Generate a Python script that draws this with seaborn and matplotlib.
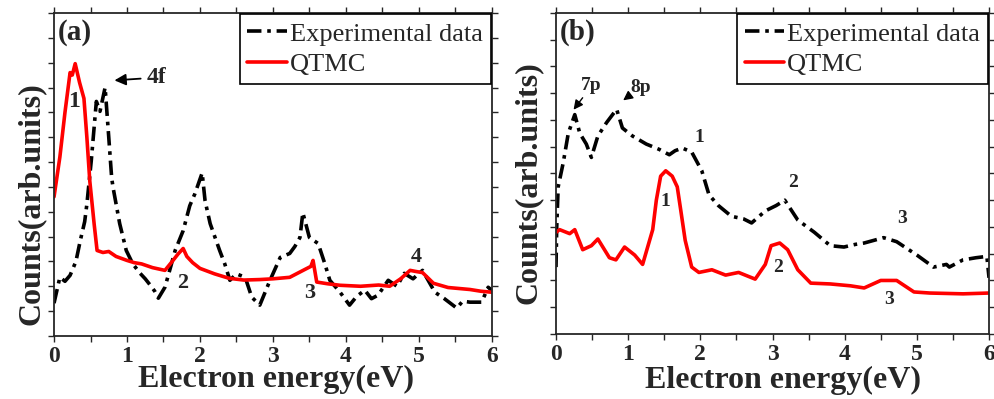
import pandas as pd
import matplotlib.pyplot as plt
import seaborn as sns

# panel (a) - experimental (black dash-dot)
a_exp_x = [0.0, 0.08, 0.15, 0.22, 0.30, 0.36, 0.42, 0.45, 0.51, 0.58, 0.63, 0.70, 0.75, 0.79, 0.81,
           0.90, 0.99, 1.08, 1.18, 1.25, 1.32, 1.38, 1.43, 1.52, 1.60, 1.66, 1.77, 1.86, 1.93, 2.03,
           2.07, 2.14, 2.27, 2.34, 2.41, 2.50, 2.62, 2.71, 2.82, 2.96, 3.10, 3.23, 3.30, 3.37, 3.41,
           3.50, 3.62, 3.71, 3.78, 3.92, 4.05, 4.15, 4.26, 4.35, 4.44, 4.58, 4.70, 4.80, 4.92, 5.05,
           5.22, 5.35, 5.52, 5.60, 5.70, 5.86, 5.95, 6.0]
a_exp_y = [1.32, 2.36, 2.2, 2.44, 3.0, 3.84, 4.6, 5.3, 7.04, 9.44, 9.04, 10.0, 8.0, 6.36, 5.96,
           4.52, 3.44, 2.9, 2.52, 2.3, 2.04, 1.8, 1.52, 1.96, 2.8, 3.44, 4.24, 5.24, 5.72, 6.56,
           5.44, 4.52, 3.44, 2.9, 2.24, 2.5, 2.36, 1.56, 1.24, 2.24, 3.16, 3.32, 3.6, 3.96, 4.96,
           3.96, 3.72, 2.92, 2.24, 1.76, 1.24, 1.6, 1.84, 1.5, 1.64, 2.24, 2.0, 2.52, 2.3, 2.64,
           1.76, 1.5, 1.12, 1.4, 1.36, 1.36, 1.96, 1.84]

# panel (a) - QTMC (red)
a_qt_x = [0.0, 0.08, 0.15, 0.22, 0.25, 0.29, 0.35, 0.41, 0.45, 0.49, 0.55, 0.59, 0.67, 0.75, 0.85,
          1.0, 1.1, 1.2, 1.35, 1.52, 1.62, 1.70, 1.77, 1.82, 1.90, 2.0, 2.2, 2.4, 2.6, 2.82, 3.0,
          3.23, 3.44, 3.52, 3.55, 3.60, 3.75, 3.92, 4.2, 4.45, 4.6, 4.75, 4.88, 4.95, 5.05, 5.2,
          5.4, 5.7, 5.85, 6.0]
a_qt_y = [5.6, 7.2, 9.0, 10.6, 10.5, 10.96, 10.2, 9.56, 8.0, 6.24, 4.5, 3.44, 3.36, 3.4, 3.2,
          3.04, 2.95, 2.9, 2.75, 2.64, 3.0, 3.3, 3.52, 3.2, 2.95, 2.72, 2.5, 2.32, 2.25, 2.27, 2.3,
          2.36, 2.68, 2.8, 3.04, 2.17, 2.1, 2.04, 2.0, 2.05, 2.0, 2.3, 2.64, 2.6, 2.55, 2.12,
          1.95, 1.87, 1.8, 1.76]

# panel (b) - experimental (black dash-dot)
b_exp_x = [0.0, 0.01, 0.03, 0.10, 0.17, 0.26, 0.33, 0.42, 0.49, 0.58, 0.70, 0.84, 0.92, 1.06, 1.25,
           1.43, 1.57, 1.65, 1.75, 1.88, 2.02, 2.12, 2.25, 2.43, 2.60, 2.71, 2.90, 3.05, 3.17, 3.35,
           3.58, 3.80, 3.99, 4.15, 4.27, 4.54, 4.72, 5.0, 5.23, 5.41, 5.45, 5.64, 5.82, 5.97, 6.0]
b_exp_y = [2.5, 4.0, 5.5, 6.4, 7.5, 8.2, 7.5, 7.1, 6.6, 7.4, 7.9, 8.4, 7.7, 7.4, 7.1,
           6.9, 6.7, 6.85, 6.95, 6.8, 6.1, 5.2, 4.8, 4.4, 4.3, 4.15, 4.6, 4.8, 5.0, 4.26,
           3.8, 3.3, 3.25, 3.35, 3.4, 3.6, 3.45, 2.95, 2.5, 2.6, 2.5, 2.77, 2.85, 2.9, 2.1]

# panel (b) - QTMC (red)
b_qt_x = [0.0, 0.05, 0.19, 0.26, 0.37, 0.49, 0.58, 0.74, 0.83, 0.95, 1.09, 1.20, 1.34, 1.39, 1.45,
          1.52, 1.61, 1.68, 1.73, 1.79, 1.88, 1.98, 2.16, 2.35, 2.53, 2.76, 2.90, 2.98, 3.10, 3.21,
          3.35, 3.53, 3.80, 4.08, 4.27, 4.50, 4.72, 4.96, 5.18, 5.64, 6.0]
b_qt_y = [3.8, 3.9, 3.75, 3.9, 3.15, 3.3, 3.55, 2.85, 2.77, 3.25, 2.95, 2.6, 3.9, 5.0, 5.9,
          6.1, 5.9, 5.5, 4.6, 3.5, 2.5, 2.3, 2.4, 2.2, 2.3, 2.05, 2.6, 3.3, 3.4, 3.15,
          2.4, 1.9, 1.87, 1.8, 1.72, 2.0, 2.0, 1.57, 1.53, 1.5, 1.53]

sns.set_style("ticks")
plt.rcParams['font.family'] = ['Liberation Serif', 'DejaVu Serif']
plt.rcParams['font.weight'] = 'bold'
plt.rcParams['xtick.direction'] = 'out'
plt.rcParams['ytick.direction'] = 'out'

fig = plt.figure(figsize=(9.95, 3.99), dpi=100)
ax_a = fig.add_axes([0.0543, 0.158, 0.440, 0.8095])
ax_b = fig.add_axes([0.5588, 0.163, 0.4352, 0.8045])

dash = (4, 1.6, 1, 1.6)


def draw(ax, ex, ey, qx, qy, ymax):
    exp = pd.DataFrame({'x': ex, 'y': ey})
    qt = pd.DataFrame({'x': qx, 'y': qy})
    sns.lineplot(data=exp, x='x', y='y', ax=ax, color='black', lw=2.6,
                 dashes=False, label='Experimental data').lines[-1].set_dashes(dash)
    sns.lineplot(data=qt, x='x', y='y', ax=ax, color='red', lw=2.6, label='QTMC')
    ax.set_xlim(0, 6)
    ax.set_ylim(0, ymax)
    ax.set_xticks(range(7))
    ax.set_xticks([i + 0.5 for i in range(6)], minor=True)
    ax.set_yticks(range(ymax + 1))
    ax.set_yticklabels([])
    ax.tick_params(which='both', top=True, right=True, length=4, width=1,
                   labelsize=17, pad=3)
    for lab in ax.get_xticklabels():
        lab.set_fontweight('bold')
    for s in ax.spines.values():
        s.set_linewidth(1.3)
    ax.set_xlabel('Electron energy(eV)', fontsize=23, fontweight='bold')
    ax.set_ylabel('Counts(arb.units)', fontsize=23, fontweight='bold')
    leg = ax.legend(loc='upper right', bbox_to_anchor=(1.0, 1.0), fontsize=19,
                    frameon=True, fancybox=False, framealpha=1, edgecolor='black',
                    handlelength=1.5, handletextpad=0.1, borderpad=0.3,
                    labelspacing=0.25, borderaxespad=0.05)
    leg.get_frame().set_linewidth(1.2)
    for t in leg.get_texts():
        t.set_fontweight('normal')


draw(ax_a, a_exp_x, a_exp_y, a_qt_x, a_qt_y, 13)
draw(ax_b, b_exp_x, b_exp_y, b_qt_x, b_qt_y, 12)

ax_a.xaxis.set_label_coords(0.507, -0.09)
ax_a.yaxis.set_label_coords(-0.02, 0.41)
ax_b.xaxis.set_label_coords(0.524, -0.10)
ax_b.yaxis.set_label_coords(-0.03, 0.47)

# panel (a) annotations
ax_a.text(0.008, 0.94, '(a)', transform=ax_a.transAxes, fontsize=21, fontweight='bold', va='center')
ax_a.text(0.27, 9.44, '1', fontsize=17, ha='center', va='center')
ax_a.annotate('4f', xy=(0.79, 10.28), xytext=(1.27, 10.4), fontsize=17, va='center',
              arrowprops=dict(arrowstyle='-|>', color='black', lw=1.3))
ax_a.text(1.77, 2.12, '2', fontsize=16, ha='center', va='center')
ax_a.text(3.5, 1.72, '3', fontsize=16, ha='center', va='center')
ax_a.text(4.97, 3.16, '4', fontsize=16, ha='center', va='center')

# panel (b) annotations
ax_b.text(0.008, 0.94, '(b)', transform=ax_b.transAxes, fontsize=21, fontweight='bold', va='center')
ax_b.annotate('7p', xy=(0.22, 8.3), xytext=(0.35, 9.27), fontsize=14, va='center',
              arrowprops=dict(arrowstyle='-|>', color='black', lw=1.0, shrinkA=0))
ax_b.annotate('8p', xy=(0.9, 8.67), xytext=(1.03, 9.23), fontsize=14, va='center',
              arrowprops=dict(arrowstyle='-|>', color='black', lw=1.0, shrinkA=0))
ax_b.text(1.98, 7.33, '1', fontsize=14, ha='center', va='center')
ax_b.text(3.28, 5.68, '2', fontsize=14, ha='center', va='center')
ax_b.text(4.79, 4.3, '3', fontsize=14, ha='center', va='center')
ax_b.text(1.52, 4.97, '1', fontsize=14, ha='center', va='center')
ax_b.text(3.08, 2.47, '2', fontsize=14, ha='center', va='center')
ax_b.text(4.62, 1.27, '3', fontsize=14, ha='center', va='center')

fig.savefig('out.png', dpi=100)
